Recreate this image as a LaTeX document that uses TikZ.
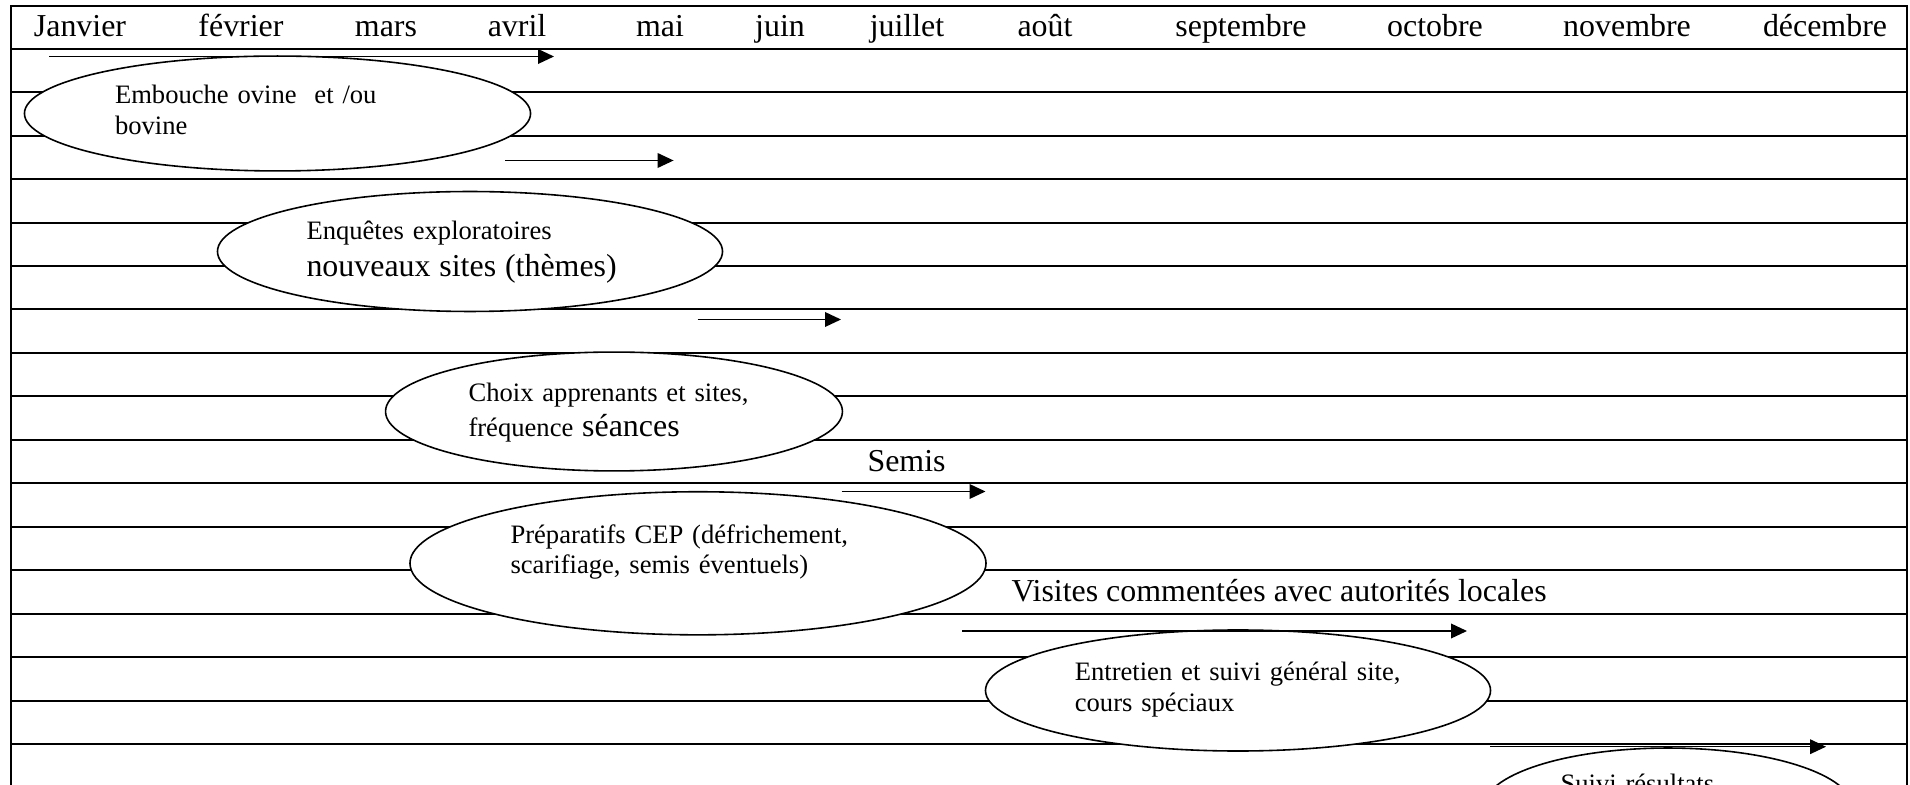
\documentclass[tikz,border=0pt]{standalone}
\usepackage{fontspec}
\setmainfont{Liberation Serif}
\usetikzlibrary{positioning,shapes.geometric,arrows.meta}

\begin{document}
\begin{tikzpicture}[x=0.376pt,y=-0.376pt]
	\tikzstyle{grid}=[line width=0.75pt]
	\tikzstyle{oval}=[ellipse,draw,fill=white,line width=0.6pt,inner sep=0pt]
	\tikzstyle{txt}=[anchor=base west,inner sep=0pt,align=left,text width=150pt,font=\fontsize{10}{11.5}\selectfont]
	\tikzstyle{month}=[anchor=base,inner sep=0pt,font=\large]
	\tikzstyle{arr}=[-{Triangle[length=6pt,width=5.5pt]},line width=0.55pt]
		\useasboundingbox (0,0) rectangle (1910,785);
		\clip (0,0) rectangle (1910,785);
		% cadre et lignes du tableau
		\draw[grid] (11,800) -- (11,6) -- (1907,6) -- (1907,800);
		\foreach \k in {0,...,16}
			\draw[grid] (11,{48.7+43.46*\k}) -- (1907,{48.7+43.46*\k});
		% mois
		\foreach \x/\m/\n in {80/Janvier/jan,241/février/fev,386/mars/mar,517/avril/avr,
			660/mai/mai,780/juin/jun,907/juillet/jul,1045/août/aou,1241/septembre/sep,
			1435/octobre/oct,1627/novembre/nov,1825/décembre/dec}
			\node[month] (\n) at (\x,37) {\m};
		% activites
		\node[oval, minimum width=190.3pt, minimum height=43.2pt] (emb) at (277.5,113.5) {};
		\node[txt] (embt) at (114.5,103.5) {Embouche ovine\ \ et /ou\\bovine};
		\node[oval, minimum width=189.9pt, minimum height=45.1pt] (enq) at (470,251.5) {};
		\node[txt] (enqt) at (306,240) {Enquêtes exploratoires\\[2.4pt]{\large nouveaux sites (thèmes)}};
		\node[oval, minimum width=171.8pt, minimum height=44.7pt] (cho) at (614,411.5) {};
		\node[txt] (chot) at (468,401.7) {Choix apprenants et sites,\\[1.7pt]fréquence {\large séances}};
		\node[oval, minimum width=216.6pt, minimum height=53.8pt] (pre) at (698,563.3) {};
		\node[txt] (pret) at (510,543.3) {Préparatifs CEP (défrichement,\\scarifiage, semis éventuels)};
		\node[oval, minimum width=189.9pt, minimum height=45.5pt] (ent) at (1238,690.5) {};
		\node[txt] (entt) at (1074.3,680.7) {Entretien et suivi général site,\\cours spéciaux};
		\node[oval, minimum width=139pt, minimum height=45.1pt] (sui) at (1668,808) {};
		\node[txt] (suit) at (1560,792) {Suivi résultats};
		\node[anchor=base west, inner sep=0pt, font=\large] (semis) at (867,471.5) {Semis};
		\node[anchor=base west, inner sep=0pt, font=\large] (visit) at (1011,602) {Visites commentées avec autorités locales};
		% fleches
		\coordinate (s1) at (49,56.5); \coordinate (e1) at (554,56.5);
		\coordinate (s2) at (505,160.5); \coordinate (e2) at (673.6,160.5);
		\coordinate (s3) at (697.5,319.5); \coordinate (e3) at (841,319.5);
		\coordinate (s4) at (841.5,491.5); \coordinate (e4) at (985.5,491.5);
		\coordinate (s5) at (962,631); \coordinate (e5) at (1467,631);
		\coordinate (s6) at (1490,746.7); \coordinate (e6) at (1826,746.7);
			\draw[arr] (s1) -- (e1);
			\draw[arr] (s2) -- (e2);
			\draw[arr] (s3) -- (e3);
			\draw[arr] (s4) -- (e4);
			\draw[arr] (s5) -- (e5);
			\draw[arr] (s6) -- (e6);
\end{tikzpicture}
\end{document}
